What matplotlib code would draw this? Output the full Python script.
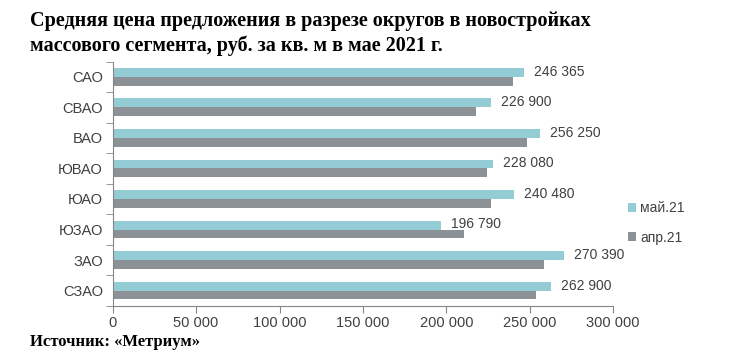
import matplotlib
matplotlib.use("Agg")
import matplotlib.pyplot as plt
import numpy as np
from matplotlib.ticker import FuncFormatter, FixedLocator

categories = ["САО", "СВАО", "ВАО", "ЮВАО", "ЮАО", "ЮЗАО", "ЗАО", "СЗАО"]
may21 = [246365, 226900, 256250, 228080, 240480, 196790, 270390, 262900]
apr21 = [240000, 218000, 248600, 224600, 226700, 210700, 258800, 253500]
may_labels = ["246 365", "226 900", "256 250", "228 080", "240 480", "196 790", "270 390", "262 900"]
xticks = [0, 50000, 100000, 150000, 200000, 250000, 300000]

plt.rcParams['font.family'] = ['Liberation Sans', 'DejaVu Sans']

fig = plt.figure(figsize=(7.46, 3.62), dpi=100)
ax = fig.add_axes([0.151, 0.155, 0.671, 0.675])

c_may = "#94CCD6"
c_apr = "#8C9196"
axis_c = "#868686"

y = np.arange(len(categories))
h = 0.29
ax.barh(y - h/2, may21, height=h, color=c_may, label="май.21")
ax.barh(y + h/2, apr21, height=h, color=c_apr, label="апр.21")

for yi, v, lab in zip(y, may21, may_labels):
    ax.text(v + 6000, yi - h/2 - 0.02, lab, va="center", ha="left", fontsize=10, color="#404040")

ax.set_ylim(len(categories) - 0.5, -0.5)
ax.set_xlim(0, 300000)
ax.set_yticks(y)
ax.set_yticklabels(categories, fontsize=10.5, color="#404040")
ax.yaxis.set_minor_locator(FixedLocator(np.arange(-0.5, len(categories), 1)))
ax.tick_params(axis="y", which="major", length=0, pad=7)
ax.tick_params(axis="y", which="minor", length=5, color=axis_c)
ax.set_xticks(xticks)
ax.xaxis.set_major_formatter(FuncFormatter(lambda v, p: f"{int(v):,}".replace(",", " ")))
ax.tick_params(axis="x", length=5, pad=2, color=axis_c, labelsize=10.5, labelcolor="#404040")
for s in ["top", "right"]:
    ax.spines[s].set_visible(False)
for s in ["left", "bottom"]:
    ax.spines[s].set_color(axis_c)

leg = fig.legend(loc="upper left", bbox_to_anchor=(0.825, 0.478), frameon=False,
                 fontsize=10, handlelength=0.6, handleheight=0.6, handletextpad=0.3,
                 labelspacing=1.1)
for t in leg.get_texts():
    t.set_color("#404040")

fig.text(0.040, 0.943, "Средняя цена предложения в разрезе округов в новостройках",
         fontsize=14.5, fontweight="bold", family=["Liberation Serif"], va="center")
fig.text(0.040, 0.873, "массового сегмента, руб. за кв. м в мае 2021 г.",
         fontsize=14.5, fontweight="bold", family=["Liberation Serif"], va="center")
fig.text(0.040, 0.056, "Источник: «Метриум»",
         fontsize=12, fontweight="bold", family=["Liberation Serif"], va="center")

fig.savefig("out.png", dpi=100)
